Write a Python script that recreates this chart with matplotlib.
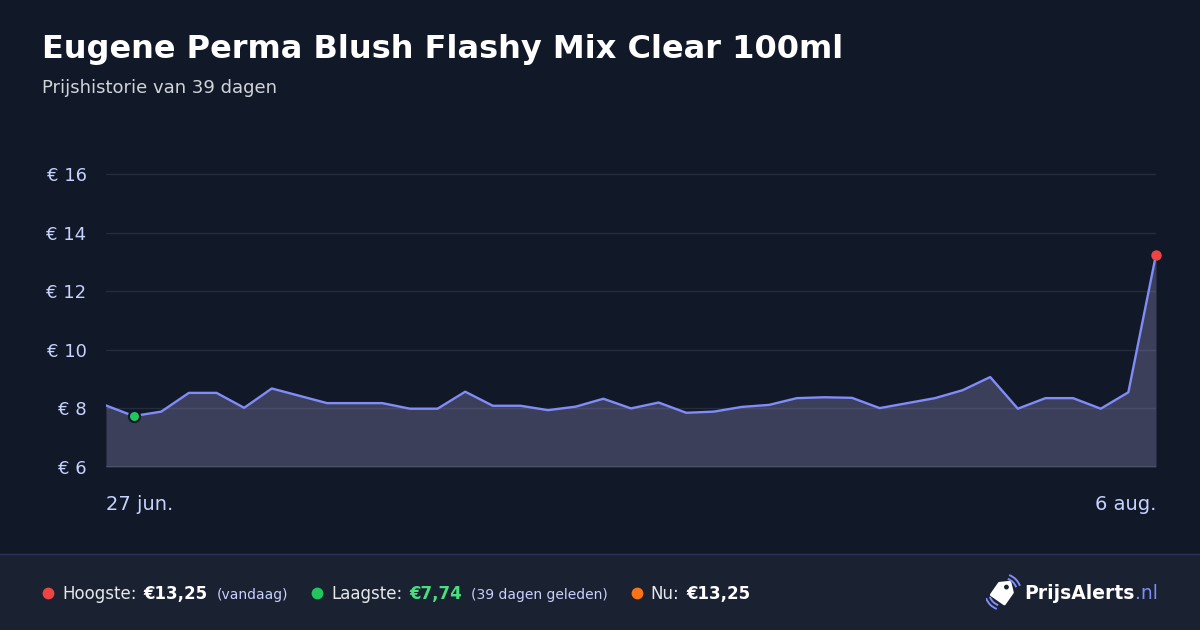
import matplotlib
matplotlib.use('Agg')
import matplotlib.pyplot as plt
import numpy as np
from matplotlib.lines import Line2D
from matplotlib.patches import Rectangle, Polygon, Arc, Circle

# data
title = 'Eugene Perma Blush Flashy Mix Clear 100ml'
subtitle = 'Prijshistorie van 39 dagen'
prices = [8.10, 7.74, 7.89, 8.53, 8.53, 8.02, 8.68, 8.43, 8.18, 8.18,
          8.18, 7.99, 7.99, 8.57, 8.09, 8.09, 7.94, 8.06, 8.33, 8.00,
          8.20, 7.85, 7.89, 8.05, 8.12, 8.35, 8.38, 8.36, 8.01, 8.18,
          8.35, 8.62, 9.07, 7.99, 8.35, 8.35, 7.99, 8.55, 13.25]
x_labels = ['27 jun.', '6 aug.']
y_ticks = [6, 8, 10, 12, 14, 16]
y_labels = ['€ 6', '€ 8', '€ 10', '€ 12', '€ 14', '€ 16']

BG = '#111827'
FOOT = '#1a2131'
LINE = '#818cf8'
W, H = 1200, 630

fig = plt.figure(figsize=(12, 6.3), dpi=100, facecolor=BG)

def fx(px):
    return px / W

def fy(py):
    return 1 - py / H

# titles
fig.text(fx(42), fy(58), title, color='white', fontsize=23, fontweight='bold', va='baseline')
fig.text(fx(42), fy(93), subtitle, color='#d1d5db', fontsize=13, va='baseline')

# chart area
ymin, ymax = 6, 16.5
px_per = (467 - 174) / 10
top_px = 467 - (ymax - ymin) * px_per
ax = fig.add_axes([fx(106), fy(467), fx(1050), (467 - top_px) / H])
ax.set_facecolor('none')
x = np.arange(len(prices))
ax.set_xlim(0, len(prices) - 1)
ax.set_ylim(ymin, ymax)
for s in ax.spines.values():
    s.set_visible(False)

for t in y_ticks[1:]:
    ax.axhline(t, color='#252d3d', lw=1, zorder=1)
ax.fill_between(x, prices, ymin, color='#9d9ad1', alpha=0.3, lw=0, zorder=2)
ax.axhline(ymin, color='#4b5264', lw=1.5, zorder=3)
ax.plot(x, prices, color=LINE, lw=1.7, zorder=4, solid_joinstyle='round')

lo = int(np.argmin(prices))
hi = int(np.argmax(prices))
ax.plot(lo, prices[lo], 'o', color='#22c55e', ms=8, mec='#0f172a', mew=1.5, zorder=5, clip_on=False)
ax.plot(hi, prices[hi], 'o', color='#ef4444', ms=7.5, mew=0, zorder=5, clip_on=False)

ax.set_yticks(y_ticks)
ax.set_yticklabels(y_labels)
ax.set_xticks([0, len(prices) - 1])
ax.set_xticklabels(x_labels)
ax.tick_params(axis='y', length=0, pad=14, labelsize=13, labelcolor='#c7d2fe')
ax.tick_params(axis='x', length=0, pad=20, labelsize=14, labelcolor='#c7d2fe')
xt = ax.get_xticklabels()
xt[0].set_ha('left')
xt[1].set_ha('right')

# footer
fig.patches.append(Rectangle((0, 0), 1, fy(554), transform=fig.transFigure, color=FOOT, zorder=-2))
fig.add_artist(Line2D([0, 1], [fy(554), fy(554)], transform=fig.transFigure, color='#2a3356', lw=1, zorder=-1))

renderer = fig.canvas.get_renderer()

def put(xpx, s, **kw):
    t = fig.text(fx(xpx), fy(599), s, va='baseline', **kw)
    bb = t.get_window_extent(renderer)
    return bb.x1

def dot(xpx, c):
    fig.add_artist(Line2D([fx(xpx)], [fy(593)], transform=fig.transFigure,
                          marker='o', ms=8.5, color=c, mew=0))

dot(47.5, '#ef4444')
e = put(62, 'Hoogste:', color='#e5e7eb', fontsize=12)
e = put(e + 7, '€13,25', color='white', fontsize=12, fontweight='bold')
e = put(e + 9, '(vandaag)', color='#c7d2fe', fontsize=10)
dot(e + 29, '#22c55e')
e = put(e + 43, 'Laagste:', color='#e5e7eb', fontsize=12)
e = put(e + 7, '€7,74', color='#4ade80', fontsize=12, fontweight='bold')
e = put(e + 9, '(39 dagen geleden)', color='#c7d2fe', fontsize=10)
dot(e + 29, '#f97316')
e = put(e + 43, 'Nu:', color='#e5e7eb', fontsize=12)
e = put(e + 7, '€13,25', color='white', fontsize=12, fontweight='bold')

# logo
t1 = fig.text(fx(1158), fy(599), '.nl', color=LINE, fontsize=13.5, va='baseline', ha='right')
nl_x = t1.get_window_extent(renderer).x0
fig.text(nl_x / W, fy(599), 'PrijsAlerts', color='white', fontsize=13.5, fontweight='bold',
         va='baseline', ha='right')

iax = fig.add_axes([fx(986), fy(610), fx(36), 36 / H], zorder=5)
iax.set_xlim(0, 36)
iax.set_ylim(0, 36)
iax.set_aspect('equal')
iax.axis('off')
ang = np.deg2rad(-35)
tag = np.array([[-8, -9], [8, -9], [8, 5], [0, 12], [-8, 5]])
rot = np.array([[np.cos(ang), -np.sin(ang)], [np.sin(ang), np.cos(ang)]])
tag = tag @ rot.T + np.array([17, 18])
iax.add_patch(Polygon(tag, closed=True, color='white', joinstyle='round', lw=2))
hole = np.array([0, 6]) @ rot.T + np.array([17, 18])
iax.add_patch(Circle(hole, 1.7, color=FOOT))
for r in (28, 36):
    iax.add_patch(Arc((17, 18), r, r, theta1=20, theta2=70, color=LINE, lw=1.4))
    iax.add_patch(Arc((17, 18), r, r, theta1=200, theta2=250, color=LINE, lw=1.4))

fig.savefig('out.png', dpi=100, facecolor=BG)
